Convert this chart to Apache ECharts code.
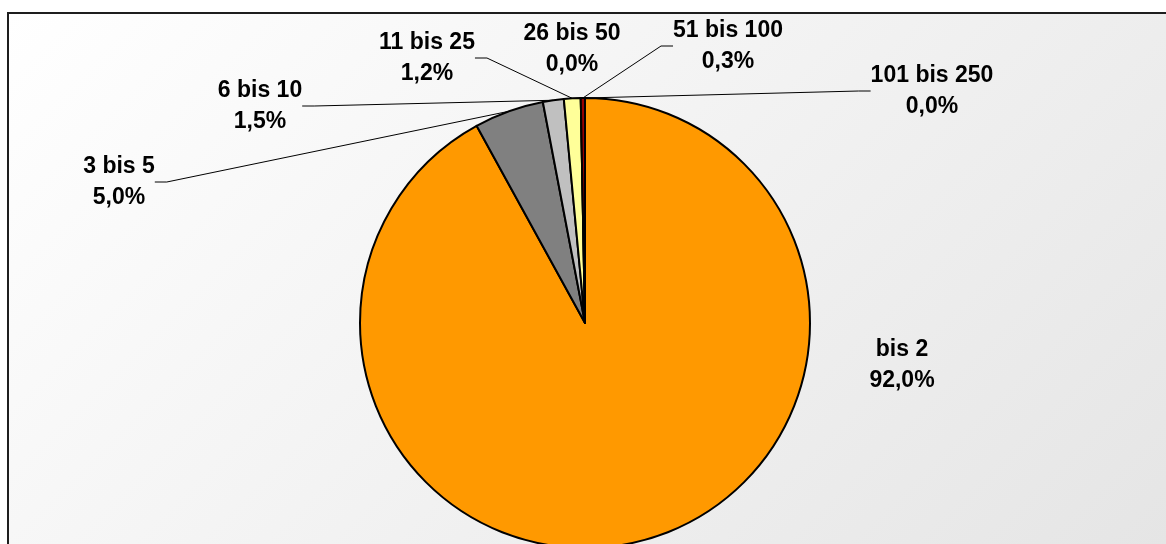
<!DOCTYPE html>
<html>
<head>
<meta charset="utf-8">
<script src="https://cdn.jsdelivr.net/npm/echarts@6/dist/echarts.min.js"></script>
<style>
html, body { margin: 0; padding: 0; background: #fff; }
#chart { width: 1166px; height: 544px; }
</style>
</head>
<body>
<div id="chart"></div>
<script>
// Größenklassen und Anteile in %
var categories = ['bis 2', '3 bis 5', '6 bis 10', '11 bis 25', '26 bis 50', '51 bis 100', '101 bis 250'];
var shares = [92.0, 5.0, 1.5, 1.2, 0.0, 0.3, 0.0];

// Darstellung (nur Stil)
var sliceColors = ['#ff9900', '#808080', '#c0c0c0', '#ffff99', '#ffcc99', '#990000', '#333399'];
var showLeader = [false, true, true, true, false, true, true];
var labelPos = [[902, 365], [119, 182], [260, 106], [427, 58], [572, 49], [728, 46], [932, 91]];

var chart = echarts.init(document.getElementById('chart'));

var pieData = categories.map(function (name, i) {
    return {
        name: name,
        value: shares[i],
        itemStyle: { color: sliceColors[i] },
        labelLine: { show: showLeader[i] }
    };
});

var option = {
    animation: false,
    graphic: [{
        type: 'rect',
        z: -10,
        silent: true,
        shape: { x: 8, y: 13, width: 1200, height: 600 },
        style: {
            fill: new echarts.graphic.LinearGradient(8, 13, 854, 859, [
                { offset: 0, color: '#ffffff' },
                { offset: 1, color: '#e5e5e5' }
            ], true),
            stroke: '#1e1e1e',
            lineWidth: 2
        }
    }],
    series: [{
        type: 'pie',
        center: [585, 323],
        radius: 225,
        startAngle: 90,
        clockwise: true,
        avoidLabelOverlap: false,
        itemStyle: { borderColor: '#000', borderWidth: 2 },
        label: {
            show: true,
            position: 'outside',
            color: '#000',
            fontFamily: 'Liberation Sans, Arial, sans-serif',
            fontWeight: 'bold',
            fontSize: 23,
            lineHeight: 31,
            formatter: function (p) {
                return p.name + '\n' + p.value.toFixed(1).replace('.', ',') + '%';
            }
        },
        labelLine: {
            show: true,
            length: 10,
            length2: 12,
            lineStyle: { color: '#000', width: 1 }
        },
        labelLayout: function (params) {
            var pos = labelPos[params.dataIndex];
            return { x: pos[0], y: pos[1], align: 'center', verticalAlign: 'middle' };
        },
        emphasis: { disabled: true },
        data: pieData
    }]
};

chart.setOption(option);
</script>
</body>
</html>
